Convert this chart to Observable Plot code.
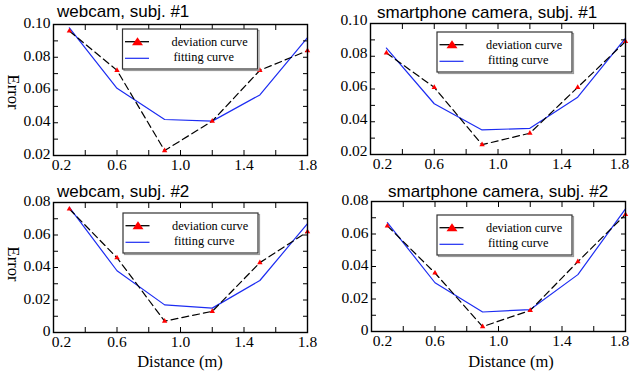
<!DOCTYPE html>
<html>
<head>
<meta charset="utf-8">
<script src="https://cdn.jsdelivr.net/npm/d3@7"></script>
<script src="https://cdn.jsdelivr.net/npm/@observablehq/plot@0.6"></script>
<style>
  html, body { margin: 0; padding: 0; background: #fff; }
  #wrap { position: relative; width: 631px; height: 377px; overflow: hidden; background: #fff; }
  #wrap > .panel { position: absolute; }
  #wrap svg { overflow: visible; }
  #wrap > .panel svg text { font-size: 15.5px !important; font-family: 'Liberation Serif', 'Times New Roman', serif !important; }
  #overlay { position: absolute; left: 0; top: 0; pointer-events: none; }
</style>
</head>
<body>
<div id="wrap"></div>
<script>
// ---- data ----
const distance = [0.3, 0.6, 0.9, 1.2, 1.5, 1.8];

const webcam1Dev = [0.096, 0.072, 0.023, 0.041, 0.072, 0.084];
const webcam1Fit = [0.098, 0.061, 0.042, 0.041, 0.057, 0.092];

const phone1Dev = [0.082, 0.061, 0.026, 0.033, 0.061, 0.089];
const phone1Fit = [0.085, 0.051, 0.035, 0.036, 0.055, 0.091];

const webcam2Dev = [0.076, 0.046, 0.007, 0.013, 0.043, 0.062];
const webcam2Fit = [0.077, 0.038, 0.017, 0.015, 0.032, 0.067];

const phone2Dev = [0.065, 0.036, 0.003, 0.013, 0.043, 0.072];
const phone2Fit = [0.067, 0.030, 0.012, 0.0135, 0.035, 0.0755];

const titles = ["webcam, subj. #1", "smartphone camera, subj. #1", "webcam, subj. #2", "smartphone camera, subj. #2"];
const legendLabels = ["deviation curve", "fitting curve"];
const xLabel = "Distance (m)";
const yLabel = "Error";

const xLabelTicks = [0.2, 0.6, 1.0, 1.4, 1.8];
const xMinorTicks = [0.2, 0.4, 0.6, 0.8, 1.0, 1.2, 1.4, 1.6, 1.8];
const yLabelTicksTop = [0.02, 0.04, 0.06, 0.08, 0.10];
const yMinorTicksTop = [0.02, 0.03, 0.04, 0.05, 0.06, 0.07, 0.08, 0.09, 0.10];
const yLabelTicksBottom = [0, 0.02, 0.04, 0.06, 0.08];
const yMinorTicksBottom = [0, 0.01, 0.02, 0.03, 0.04, 0.05, 0.06, 0.07, 0.08];

// ---- drawing ----
const fmtY = d => d === 0 ? "0" : d.toFixed(2);
const fmtX = d => d.toFixed(1);
const FS = 15.5;

function panel(cfg) {
  const dev = distance.map((x, i) => ({x, y: cfg.dev[i]}));
  const fit = distance.map((x, i) => ({x, y: cfg.fit[i]}));
  return Plot.plot({
    width: cfg.w, height: cfg.h,
    marginLeft: cfg.ml, marginRight: cfg.mr, marginTop: cfg.mt, marginBottom: cfg.mb,
    style: "font-family: 'Liberation Serif', 'Times New Roman', serif; font-size: 15.5px; color: black; background: transparent; overflow: visible;",
    x: {domain: [0.2, 1.8], label: null},
    y: {domain: cfg.yDomain, label: null},
    marks: [
      Plot.lineY(fit, {x: "x", y: "y", stroke: "#1c2cf2", strokeWidth: 1.2}),
      Plot.lineY(dev, {x: "x", y: "y", stroke: "black", strokeWidth: 1.2, strokeDasharray: "7,4"}),
      Plot.dot(dev, {x: "x", y: "y", symbol: "triangle", r: 2, fill: "red", stroke: "none"}),
      // inward ticks
      Plot.axisX(xMinorTicks, {anchor: "bottom", tickSize: -5, fill: "none", label: null, strokeWidth: 1}),
      Plot.axisX(xMinorTicks, {anchor: "top", tickSize: -5, fill: "none", label: null, strokeWidth: 1}),
      Plot.axisY(cfg.yMinor, {anchor: "left", tickSize: -5, fill: "none", label: null, strokeWidth: 1}),
      Plot.axisY(cfg.yMinor, {anchor: "right", tickSize: -5, fill: "none", label: null, strokeWidth: 1}),
      // labels
      Plot.axisX(xLabelTicks.slice(0, 1), {anchor: "bottom", tickSize: 0, tickPadding: 3, tickFormat: fmtX, label: null, fontSize: FS, dx: cfg.firstDx}),
      Plot.axisX(xLabelTicks.slice(1, -1), {anchor: "bottom", tickSize: 0, tickPadding: 3, tickFormat: fmtX, label: null, fontSize: FS}),
      Plot.axisX(xLabelTicks.slice(-1), {anchor: "bottom", tickSize: 0, tickPadding: 3, tickFormat: fmtX, label: null, fontSize: FS, dx: cfg.lastDx}),
      Plot.axisY(cfg.yLabels, {anchor: "left", tickSize: 0, tickPadding: 3, tickFormat: fmtY, label: null, fontSize: FS, dy: cfg.yDy}),
      Plot.frame({stroke: "black", strokeWidth: 1.4})
    ]
  });
}

const wrap = document.getElementById("wrap");
const configs = [
  {left: 0, top: 0, w: 315, h: 185, ml: 53, mr: 8, mt: 24, mb: 30, dev: webcam1Dev, fit: webcam1Fit,
   yDomain: [0.02, 0.10], yLabels: yLabelTicksTop, yMinor: yMinorTicksTop, firstDx: 8, lastDx: 0, yDy: -1.5},
  {left: 315, top: 0, w: 316, h: 185, ml: 55, mr: 6, mt: 23, mb: 31, dev: phone1Dev, fit: phone1Fit,
   yDomain: [0.02, 0.10], yLabels: yLabelTicksTop, yMinor: yMinorTicksTop, firstDx: 12, lastDx: -6, yDy: -3},
  {left: 0, top: 185, w: 315, h: 192, ml: 53, mr: 8, mt: 17, mb: 45, dev: webcam2Dev, fit: webcam2Fit,
   yDomain: [0, 0.08], yLabels: yLabelTicksBottom, yMinor: yMinorTicksBottom, firstDx: 8, lastDx: 0, yDy: -1},
  {left: 315, top: 185, w: 316, h: 192, ml: 56, mr: 6, mt: 16, mb: 46, dev: phone2Dev, fit: phone2Fit,
   yDomain: [0, 0.08], yLabels: yLabelTicksBottom, yMinor: yMinorTicksBottom, firstDx: 11, lastDx: -6, yDy: -1}
];
configs.forEach(cfg => {
  const div = document.createElement("div");
  div.className = "panel";
  div.style.left = cfg.left + "px";
  div.style.top = cfg.top + "px";
  div.appendChild(panel(cfg));
  wrap.appendChild(div);
});

// ---- overlay: titles, axis titles, legends ----
const NS = "http://www.w3.org/2000/svg";
const ov = document.createElementNS(NS, "svg");
ov.setAttribute("id", "overlay");
ov.setAttribute("width", 631);
ov.setAttribute("height", 377);
wrap.appendChild(ov);

function el(tag, attrs, text) {
  const e = document.createElementNS(NS, tag);
  for (const k in attrs) e.setAttribute(k, attrs[k]);
  if (text != null) e.textContent = text;
  return e;
}

const titlePos = [[57, 17], [377, 18], [57, 197], [388, 197]];
titles.forEach((t, i) => {
  ov.appendChild(el("text", {x: titlePos[i][0], y: titlePos[i][1], "font-family": "'Liberation Sans', Arial, sans-serif", "font-size": 17, fill: "black"}, t));
});

const serif = "'Liberation Serif', 'Times New Roman', serif";
[[7.5, 92], [7.5, 264]].forEach(([x, y]) => {
  ov.appendChild(el("text", {transform: `translate(${x},${y}) rotate(90)`, "text-anchor": "middle", "font-family": serif, "font-size": 16.5, fill: "black"}, yLabel));
});
[[180, 367], [511, 367]].forEach(([x, y]) => {
  ov.appendChild(el("text", {x, y, "text-anchor": "middle", "font-family": serif, "font-size": 16.5, fill: "black"}, xLabel));
});

const legendPos = [[122.5, 29], [437, 32], [123, 213], [437, 215]];
legendPos.forEach(([lx, ly]) => {
  const g = el("g", {transform: `translate(${lx},${ly})`});
  g.appendChild(el("rect", {x: 1.5, y: 1.5, width: 135, height: 40, fill: "none", stroke: "#9a9a9a", "stroke-width": 1.2}));
  g.appendChild(el("rect", {x: 0, y: 0, width: 135, height: 40, fill: "white", stroke: "#333", "stroke-width": 1.2}));
  g.appendChild(el("line", {x1: 2.5, x2: 26.5, y1: 12.7, y2: 12.7, stroke: "black", "stroke-width": 1.3}));
  g.appendChild(el("path", {d: "M15,8.3 L20.5,16.3 L9.5,16.3 Z", fill: "red"}));
  g.appendChild(el("text", {x: 49, y: 16.7, "font-family": serif, "font-size": 12.3, fill: "black"}, legendLabels[0]));
  g.appendChild(el("line", {x1: 2.5, x2: 26.5, y1: 29.3, y2: 29.3, stroke: "#1c2cf2", "stroke-width": 1.2}));
  g.appendChild(el("text", {x: 51, y: 32, "font-family": serif, "font-size": 12.3, fill: "black"}, legendLabels[1]));
  ov.appendChild(g);
});
</script>
</body>
</html>
